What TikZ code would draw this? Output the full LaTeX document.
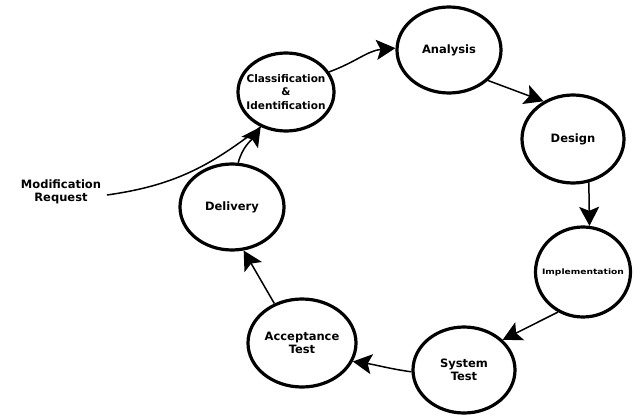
\documentclass[tikz,border=0pt]{standalone}
\usepackage{fontspec}
\setmainfont{DejaVu Sans}
\usetikzlibrary{shapes.geometric,arrows.meta}
\newcommand{\clsfont}{\fontsize{10.5}{13.5}\selectfont}
\begin{document}
\begin{tikzpicture}[x=1pt,y=1pt,
  txt/.style={font=\bfseries\fontsize{11.5}{13.5}\selectfont,align=center,inner sep=0pt},
  stage/.style={ellipse,draw,line width=3.2pt,inner sep=0pt,label={[txt]center:{#1}}},
  flow/.style={line width=1.5pt,-{Stealth[length=19pt,width=20pt,inset=4pt]}},
  plain/.style={line width=1.5pt}]
\useasboundingbox (0,0) rectangle (639,416);
\node[stage={\clsfont Classification\\\clsfont\&\\\clsfont Identification},minimum width=96,minimum height=78] (cls) at (286,324) {};
\node[stage={Analysis},minimum width=104,minimum height=86] (ana) at (449,366) {};
\node[stage={\fontsize{7.5}{8}\selectfont\scalebox{1.22}[1]{Implementation}},minimum width=95,minimum height=90] (imp) at (583,144) {};
\node[stage={Design},minimum width=102,minimum height=88] (des) at (573,277) {};
\node[stage={System\\Test},minimum width=102,minimum height=86] (sys) at (464,46) {};
\node[stage={Acceptance\\Test},minimum width=108,minimum height=88] (acc) at (302,73) {};
\node[stage={Delivery},minimum width=104,minimum height=86] (del) at (232,209) {};
\node[txt] (mod) at (61,224) {Modification\\Request};
\draw[flow] (cls.25) to[out=20,in=185] (ana.178);
\draw[flow] (ana.-38) -- (des.128);
\draw[flow] (des.-70) -- (imp.82);
\draw[flow] (imp.-122) -- (sys.38);
\draw[flow] (sys.182) to[out=172,in=-8] (acc.-20);
\draw[flow] (acc.125) -- (del.-75);
\draw[flow] (del.82) to[out=75,in=-125] (cls.-126);
\coordinate (m0) at (107,221);
\draw[plain] (m0) to[out=8,in=-142] (cls.-126);
\end{tikzpicture}
\end{document}
